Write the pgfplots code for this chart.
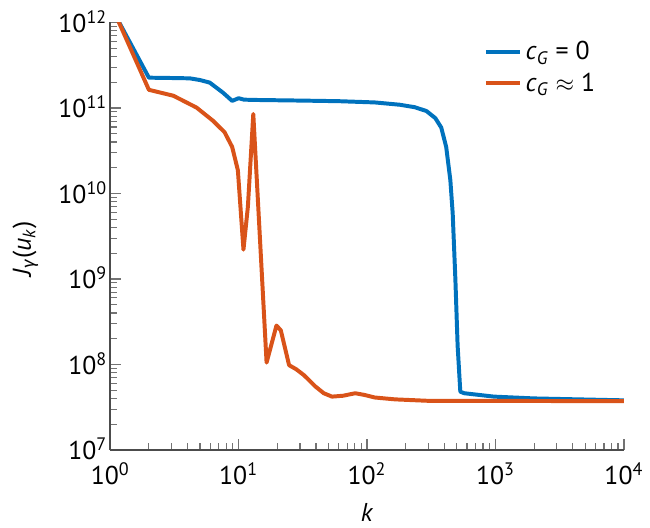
\documentclass[border=0pt]{standalone}
\usepackage{pgfplots}
\pgfplotsset{compat=1.18}
\usepackage{fontspec}
\setmainfont{PT Sans}
\newfontfamily\greekfont{Fira Sans}

\definecolor{mblue}{HTML}{0072BD}
\definecolor{morange}{HTML}{D95319}
\newcommand{\tickfont}{\fontsize{13}{16}\selectfont}
% decade exponent from pgfplots' internal (natural log) tick value
\newcommand{\decade}{10\textsuperscript{\pgfmathparse{int(round(\tick/2.302585093))}\pgfmathresult}}

\begin{document}
\begin{tikzpicture}
\begin{axis}[
    scale only axis,
    width=259pt, height=215.5pt,
    xmode=log, ymode=log,
    xmin=1, xmax=1e4, ymin=1e7, ymax=1e12,
    axis lines*=left,
    axis line style={draw=black!70, line width=0.8pt},
    tick style={draw=black!55, line width=0.6pt},
    tick align=inside,
    major tick length=5.5pt, minor tick length=3.5pt,
    xtick={1,10,100,1000,10000},
    ytick={1e7,1e8,1e9,1e10,1e11,1e12},
    xticklabel={\decade},
    yticklabel={\decade},
    tick label style={font=\tickfont},
    xticklabel style={yshift=-3pt},
    yticklabel style={xshift=2pt, yshift=0.5pt},
    label style={font=\tickfont},
    xlabel={\textit{k}},
    ylabel={\textit{J}\textsubscript{{\greekfont\itshape γ}}(\textit{u}\textsubscript{\textit{k}})},
    xlabel style={at={(axis description cs:0.5,-0.146)}, anchor=center},
    ylabel style={at={(axis description cs:-0.165,0.47)}, anchor=center},
    legend style={draw=none, fill=none, font=\tickfont,
        at={(axis description cs:0.715,0.975)}, anchor=north west,
        row sep=1pt},
    legend cell align=left,
    every axis plot/.append style={line width=2pt, line join=round},
]
\addplot[color=mblue] coordinates {
(1,1.57e12) (2,2.26e11) (3,2.24e11) (4.17,2.22e11) (5,2.12e11) (5.95,1.98e11)
(7.55,1.51e11) (8.9,1.21e11) (10,1.3e11) (11,1.25e11) (13.6,1.24e11)
(30,1.22e11) (60,1.2e11) (115,1.16e11) (180,1.09e11) (235,1.02e11)
(290,9.2e10) (340,7.6e10) (378,5.9e10) (413,3.5e10) (445,1.43e10) (464,5.9e9)
(487,9.9e8) (507,1.66e8) (532,4.8e7) (571,4.6e7) (973,4.2e7)
(2000,4.0e7) (10000,3.8e7)
};
\addlegendentry{\textit{c}\textsubscript{\textit{G}} = 0}
\addplot[color=morange] coordinates {
(1,1.7e12) (2,1.63e11) (3.1,1.39e11) (4.7,1.01e11) (6.3,7.1e10) (7.77,5.2e10)
(8.9,3.5e10) (9.86,1.87e10) (10.9,2.2e9) (11.8,7e9) (13,8.5e10)
(16.5,1.05e8) (19.7,2.85e8) (21.3,2.5e8) (24.7,9.8e7) (28,8.8e7)
(32.2,7.5e7) (39.7,5.5e7) (46,4.6e7) (53.3,4.2e7) (65,4.3e7) (80.8,4.6e7)
(95,4.4e7) (115,4.1e7) (165,3.9e7) (300,3.75e7) (10000,3.72e7)
};
\addlegendentry{\textit{c}\textsubscript{\textit{G}} $\approx$ 1}
\end{axis}
% a little blank margin at the left and top, as in the reference
\path ([xshift=-3pt,yshift=2pt]current bounding box.north west);
\end{tikzpicture}
\end{document}
